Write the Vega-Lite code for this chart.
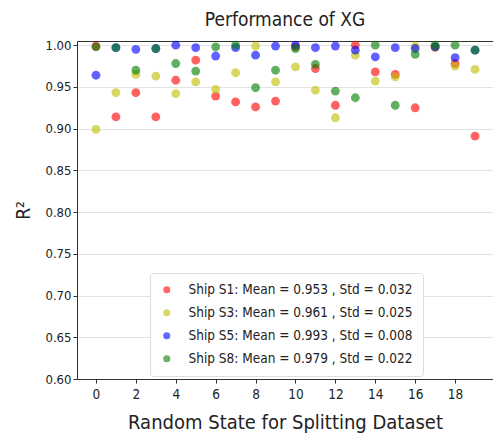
{
  "$schema": "https://vega.github.io/schema/vega-lite/v6.json",
  "width": 416,
  "height": 338,
  "autosize": "none",
  "padding": {"left": 77, "top": 41, "right": 0, "bottom": 63},
  "title": {"text": "Performance of XG", "fontSize": 19, "font": "DejaVu Sans Condensed, Liberation Sans Narrow, DejaVu Sans", "fontWeight": "normal", "color": "#222", "offset": 9, "anchor": "middle"},
  "config": {"view": {"stroke": null}, "font": "DejaVu Sans Condensed, Liberation Sans Narrow, DejaVu Sans"},
  "data": {"values": [
    {"x": 0, "ship": "Ship S1: Mean = 0.953 , Std = 0.032", "r2": 0.999},
    {"x": 1, "ship": "Ship S1: Mean = 0.953 , Std = 0.032", "r2": 0.914},
    {"x": 2, "ship": "Ship S1: Mean = 0.953 , Std = 0.032", "r2": 0.943},
    {"x": 3, "ship": "Ship S1: Mean = 0.953 , Std = 0.032", "r2": 0.914},
    {"x": 4, "ship": "Ship S1: Mean = 0.953 , Std = 0.032", "r2": 0.958},
    {"x": 5, "ship": "Ship S1: Mean = 0.953 , Std = 0.032", "r2": 0.982},
    {"x": 6, "ship": "Ship S1: Mean = 0.953 , Std = 0.032", "r2": 0.939},
    {"x": 7, "ship": "Ship S1: Mean = 0.953 , Std = 0.032", "r2": 0.932},
    {"x": 8, "ship": "Ship S1: Mean = 0.953 , Std = 0.032", "r2": 0.926},
    {"x": 9, "ship": "Ship S1: Mean = 0.953 , Std = 0.032", "r2": 0.933},
    {"x": 10, "ship": "Ship S1: Mean = 0.953 , Std = 0.032", "r2": 0.998},
    {"x": 11, "ship": "Ship S1: Mean = 0.953 , Std = 0.032", "r2": 0.972},
    {"x": 12, "ship": "Ship S1: Mean = 0.953 , Std = 0.032", "r2": 0.928},
    {"x": 13, "ship": "Ship S1: Mean = 0.953 , Std = 0.032", "r2": 1.0},
    {"x": 14, "ship": "Ship S1: Mean = 0.953 , Std = 0.032", "r2": 0.968},
    {"x": 15, "ship": "Ship S1: Mean = 0.953 , Std = 0.032", "r2": 0.965},
    {"x": 16, "ship": "Ship S1: Mean = 0.953 , Std = 0.032", "r2": 0.925},
    {"x": 17, "ship": "Ship S1: Mean = 0.953 , Std = 0.032", "r2": 0.998},
    {"x": 18, "ship": "Ship S1: Mean = 0.953 , Std = 0.032", "r2": 0.978},
    {"x": 19, "ship": "Ship S1: Mean = 0.953 , Std = 0.032", "r2": 0.891},
    {"x": 0, "ship": "Ship S3: Mean = 0.961 , Std = 0.025", "r2": 0.899},
    {"x": 1, "ship": "Ship S3: Mean = 0.961 , Std = 0.025", "r2": 0.943},
    {"x": 2, "ship": "Ship S3: Mean = 0.961 , Std = 0.025", "r2": 0.965},
    {"x": 3, "ship": "Ship S3: Mean = 0.961 , Std = 0.025", "r2": 0.963},
    {"x": 4, "ship": "Ship S3: Mean = 0.961 , Std = 0.025", "r2": 0.942},
    {"x": 5, "ship": "Ship S3: Mean = 0.961 , Std = 0.025", "r2": 0.956},
    {"x": 6, "ship": "Ship S3: Mean = 0.961 , Std = 0.025", "r2": 0.947},
    {"x": 7, "ship": "Ship S3: Mean = 0.961 , Std = 0.025", "r2": 0.967},
    {"x": 8, "ship": "Ship S3: Mean = 0.961 , Std = 0.025", "r2": 0.999},
    {"x": 9, "ship": "Ship S3: Mean = 0.961 , Std = 0.025", "r2": 0.956},
    {"x": 10, "ship": "Ship S3: Mean = 0.961 , Std = 0.025", "r2": 0.974},
    {"x": 11, "ship": "Ship S3: Mean = 0.961 , Std = 0.025", "r2": 0.946},
    {"x": 12, "ship": "Ship S3: Mean = 0.961 , Std = 0.025", "r2": 0.913},
    {"x": 13, "ship": "Ship S3: Mean = 0.961 , Std = 0.025", "r2": 0.988},
    {"x": 14, "ship": "Ship S3: Mean = 0.961 , Std = 0.025", "r2": 0.957},
    {"x": 15, "ship": "Ship S3: Mean = 0.961 , Std = 0.025", "r2": 0.962},
    {"x": 16, "ship": "Ship S3: Mean = 0.961 , Std = 0.025", "r2": 0.999},
    {"x": 17, "ship": "Ship S3: Mean = 0.961 , Std = 0.025", "r2": 0.997},
    {"x": 18, "ship": "Ship S3: Mean = 0.961 , Std = 0.025", "r2": 0.975},
    {"x": 19, "ship": "Ship S3: Mean = 0.961 , Std = 0.025", "r2": 0.971},
    {"x": 0, "ship": "Ship S5: Mean = 0.993 , Std = 0.008", "r2": 0.964},
    {"x": 1, "ship": "Ship S5: Mean = 0.993 , Std = 0.008", "r2": 0.997},
    {"x": 2, "ship": "Ship S5: Mean = 0.993 , Std = 0.008", "r2": 0.995},
    {"x": 3, "ship": "Ship S5: Mean = 0.993 , Std = 0.008", "r2": 0.996},
    {"x": 4, "ship": "Ship S5: Mean = 0.993 , Std = 0.008", "r2": 1.0},
    {"x": 5, "ship": "Ship S5: Mean = 0.993 , Std = 0.008", "r2": 0.997},
    {"x": 6, "ship": "Ship S5: Mean = 0.993 , Std = 0.008", "r2": 0.987},
    {"x": 7, "ship": "Ship S5: Mean = 0.993 , Std = 0.008", "r2": 0.997},
    {"x": 8, "ship": "Ship S5: Mean = 0.993 , Std = 0.008", "r2": 0.988},
    {"x": 9, "ship": "Ship S5: Mean = 0.993 , Std = 0.008", "r2": 0.999},
    {"x": 10, "ship": "Ship S5: Mean = 0.993 , Std = 0.008", "r2": 1.0},
    {"x": 11, "ship": "Ship S5: Mean = 0.993 , Std = 0.008", "r2": 0.997},
    {"x": 12, "ship": "Ship S5: Mean = 0.993 , Std = 0.008", "r2": 0.999},
    {"x": 13, "ship": "Ship S5: Mean = 0.993 , Std = 0.008", "r2": 0.994},
    {"x": 14, "ship": "Ship S5: Mean = 0.993 , Std = 0.008", "r2": 0.986},
    {"x": 15, "ship": "Ship S5: Mean = 0.993 , Std = 0.008", "r2": 0.997},
    {"x": 16, "ship": "Ship S5: Mean = 0.993 , Std = 0.008", "r2": 0.996},
    {"x": 17, "ship": "Ship S5: Mean = 0.993 , Std = 0.008", "r2": 0.998},
    {"x": 18, "ship": "Ship S5: Mean = 0.993 , Std = 0.008", "r2": 0.985},
    {"x": 19, "ship": "Ship S5: Mean = 0.993 , Std = 0.008", "r2": 0.994},
    {"x": 0, "ship": "Ship S8: Mean = 0.979 , Std = 0.022", "r2": 0.998},
    {"x": 1, "ship": "Ship S8: Mean = 0.979 , Std = 0.022", "r2": 0.997},
    {"x": 2, "ship": "Ship S8: Mean = 0.979 , Std = 0.022", "r2": 0.970},
    {"x": 3, "ship": "Ship S8: Mean = 0.979 , Std = 0.022", "r2": 0.996},
    {"x": 4, "ship": "Ship S8: Mean = 0.979 , Std = 0.022", "r2": 0.978},
    {"x": 5, "ship": "Ship S8: Mean = 0.979 , Std = 0.022", "r2": 0.969},
    {"x": 6, "ship": "Ship S8: Mean = 0.979 , Std = 0.022", "r2": 0.998},
    {"x": 7, "ship": "Ship S8: Mean = 0.979 , Std = 0.022", "r2": 1.0},
    {"x": 8, "ship": "Ship S8: Mean = 0.979 , Std = 0.022", "r2": 0.949},
    {"x": 9, "ship": "Ship S8: Mean = 0.979 , Std = 0.022", "r2": 0.970},
    {"x": 10, "ship": "Ship S8: Mean = 0.979 , Std = 0.022", "r2": 0.996},
    {"x": 11, "ship": "Ship S8: Mean = 0.979 , Std = 0.022", "r2": 0.977},
    {"x": 12, "ship": "Ship S8: Mean = 0.979 , Std = 0.022", "r2": 0.945},
    {"x": 13, "ship": "Ship S8: Mean = 0.979 , Std = 0.022", "r2": 0.937},
    {"x": 14, "ship": "Ship S8: Mean = 0.979 , Std = 0.022", "r2": 1.0},
    {"x": 15, "ship": "Ship S8: Mean = 0.979 , Std = 0.022", "r2": 0.928},
    {"x": 16, "ship": "Ship S8: Mean = 0.979 , Std = 0.022", "r2": 0.989},
    {"x": 17, "ship": "Ship S8: Mean = 0.979 , Std = 0.022", "r2": 1.0},
    {"x": 18, "ship": "Ship S8: Mean = 0.979 , Std = 0.022", "r2": 1.0},
    {"x": 19, "ship": "Ship S8: Mean = 0.979 , Std = 0.022", "r2": 0.994}
  ]},
  "layer": [
    {
      "mark": {"type": "point", "filled": true, "size": 78, "opacity": 0.62},
      "encoding": {
        "x": {"field": "x", "type": "quantitative", "scale": {"domain": [-0.95, 19.9], "nice": false, "zero": false},
          "axis": {"orient": "bottom", "values": [0, 2, 4, 6, 8, 10, 12, 14, 16, 18], "grid": false, "tickSize": 4, "tickColor": "#333", "domainColor": "#333", "labelFontSize": 13.5, "labelColor": "#222", "labelPadding": 4, "title": "Random State for Splitting Dataset", "titleFontSize": 20, "titleFontWeight": "normal", "titleColor": "#222", "titlePadding": 12}},
        "y": {"field": "r2", "type": "quantitative", "scale": {"domain": [0.6, 1.005], "nice": false, "zero": false},
          "axis": {"values": [0.6, 0.65, 0.7, 0.75, 0.8, 0.85, 0.9, 0.95, 1.0], "format": ".2f", "grid": true, "gridColor": "#e2e2e2", "tickSize": 4, "tickColor": "#333", "domainColor": "#333", "labelFontSize": 13, "labelColor": "#222", "labelPadding": 2, "title": "R²", "titleFontSize": 19, "titleFontWeight": "normal", "titleColor": "#222", "titlePadding": 11}},
        "color": {"field": "ship", "type": "nominal",
          "scale": {"domain": ["Ship S1: Mean = 0.953 , Std = 0.032", "Ship S3: Mean = 0.961 , Std = 0.025", "Ship S5: Mean = 0.993 , Std = 0.008", "Ship S8: Mean = 0.979 , Std = 0.022"], "range": ["#ff0000", "#bfbf00", "#0000ff", "#008000"]},
          "legend": {"title": null, "orient": "none", "legendX": 73, "legendY": 232, "fillColor": "#ffffff", "strokeColor": "#dddddd", "cornerRadius": 3, "padding": 10, "labelFontSize": 13.5, "labelLimit": 0, "labelColor": "#222", "labelOffset": 15, "symbolType": "circle", "symbolSize": 50, "symbolOpacity": 0.6, "symbolStrokeWidth": 0, "rowPadding": 8}}
      }
    },
    {
      "mark": {"type": "point", "opacity": 0},
      "encoding": {
        "x": {"field": "x", "type": "quantitative", "scale": {"domain": [-0.95, 19.9], "nice": false, "zero": false},
          "axis": {"orient": "top", "labels": false, "ticks": false, "grid": false, "title": null, "domainColor": "#333"}},
        "y": {"field": "r2", "type": "quantitative"}
      }
    }
  ],
  "resolve": {"axis": {"x": "independent"}}
}
